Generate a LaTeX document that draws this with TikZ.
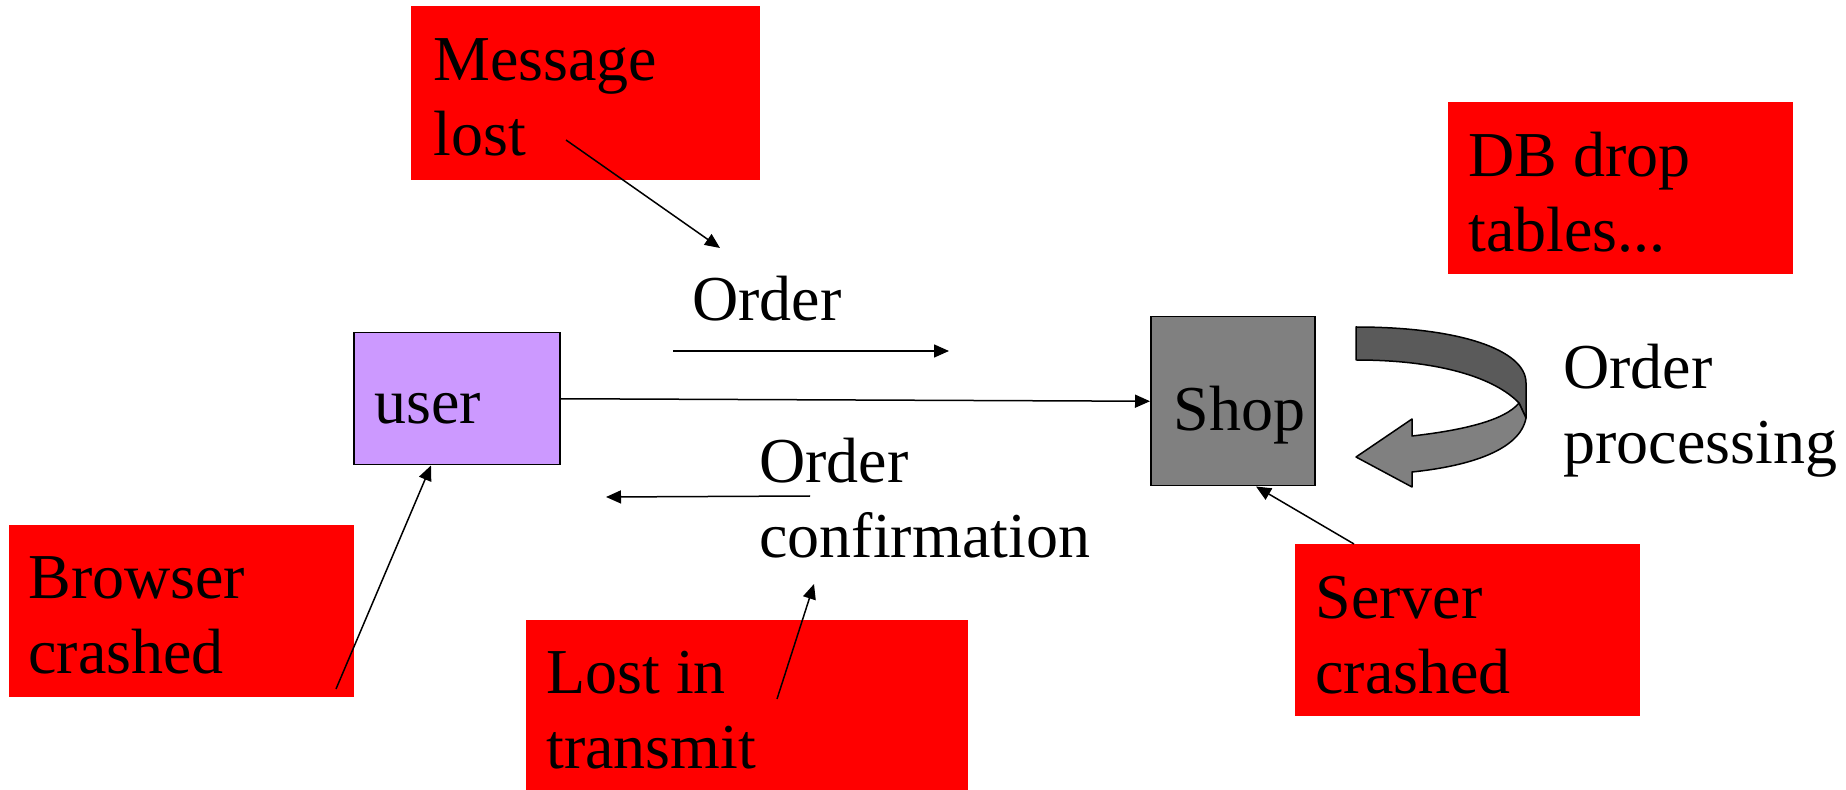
\documentclass[tikz,border=0pt]{standalone}
\usepackage{fontspec}
\setmainfont{Liberation Serif}
\usetikzlibrary{arrows.meta,calc}
\definecolor{alarm}{HTML}{FF0000}
\definecolor{lilac}{HTML}{CC99FF}
\definecolor{shopgray}{HTML}{808080}
\definecolor{ribbondark}{HTML}{5A5A5A}
\definecolor{ribbonlight}{HTML}{808080}
\tikzset{
  alarmbox/.style={fill=alarm, draw=none, inner sep=0pt, anchor=north west},
  actor/.style={draw=black, line width=0.75pt, inner sep=0pt, anchor=north west},
  % multi-line labels sit on the baseline of their last line
  lbl/.style={font=\fontsize{32}{37.5}\selectfont, inner sep=0pt, anchor=base west, align=left},
  conn/.style={draw=black, line width=0.75pt, -{Triangle[length=7.5pt,width=6.5pt]}},
}
\begin{document}
\begin{tikzpicture}[x=0.5pt,y=-0.5pt]
  \useasboundingbox (0,0) rectangle (1846,790);

  % failure boxes
  \node[alarmbox, minimum width=174.5pt, minimum height=87pt] (msgbox) at (411,6) {};
  \node[alarmbox, minimum width=172.5pt, minimum height=86pt] (dbbox) at (1448,102) {};
  \node[alarmbox, minimum width=172.5pt, minimum height=86pt] (browserbox) at (9,525) {};
  \node[alarmbox, minimum width=221pt, minimum height=85pt] (lostbox) at (526,620) {};
  \node[alarmbox, minimum width=172.5pt, minimum height=86pt] (serverbox) at (1295,544) {};

  % the two parties
  \node[actor, fill=lilac, minimum width=103pt, minimum height=66pt] (user) at (353,332) {};
  \node[actor, fill=shopgray, minimum width=82pt, minimum height=84.5pt] (shop) at (1150,316) {};

  % texts
  \node[lbl] (msgtxt) at (433,156) {Message\\lost};
  \node[lbl] (dbtxt) at (1468,252) {DB drop\\tables...};
  \node[lbl] (browsertxt) at (28,673) {Browser\\crashed};
  \node[lbl] (losttxt) at (546,768) {Lost in\\transmit};
  \node[lbl] (servertxt) at (1315,693) {Server\\crashed};
  \node[lbl] (usertxt) at (374,424) {user};
  \node[lbl] (shoptxt) at (1173,431) {Shop};
  \node[lbl] (ordertxt) at (692,321) {Order};
  \node[lbl] (conftxt) at (759,558) {Order\\confirmation};
  \node[lbl] (proctxt) at (1563,464) {Order\\processing};

  % message flow
  \coordinate (ordA) at (673,351);
  \coordinate (ordB) at (949,351);
  \draw[conn] (ordA) -- (ordB);
  \draw[conn] (user.east) -- (shop.west);
  \coordinate (confA) at (810,496);
  \coordinate (confB) at (606,497);
  \draw[conn] (confA) -- (confB);

  % pointers from the failure boxes
  \coordinate (msgA) at (566,140);
  \coordinate (msgB) at (720,248);
  \draw[conn] (msgA) -- (msgB);
  \coordinate (browserA) at (336,689);
  \draw[conn] (browserA) -- ($(user.south west)+(78,0)$);
  \coordinate (lostA) at (777,699);
  \coordinate (lostB) at (814,584);
  \draw[conn] (lostA) -- (lostB);
  \draw[conn] ($(serverbox.north west)+(59,0)$) -- ($(shop.south west)+(106,0)$);

  % order processing ribbon arrow
  \filldraw[fill=ribbondark, draw=black, line width=0.75pt, line join=round]
    (1356,327) .. controls (1460,327) and (1526,350) .. (1526,383)
    -- (1526,418) -- (1519,403)
    .. controls (1495,378) and (1440,360) .. (1356,360) -- cycle;
  \filldraw[fill=ribbonlight, draw=black, line width=0.75pt, line join=round]
    (1519,403) -- (1526,418)
    .. controls (1520,450) and (1470,466) .. (1412,472)
    -- (1412,487) -- (1356,457) -- (1412,419) -- (1412,436)
    .. controls (1465,430) and (1505,420) .. (1519,403) -- cycle;
\end{tikzpicture}
\end{document}
